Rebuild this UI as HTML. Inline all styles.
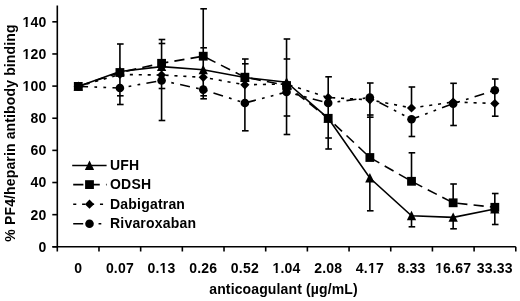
<!DOCTYPE html><html><head><meta charset="utf-8"><style>html,body{margin:0;padding:0;background:#fff;width:520px;height:301px;overflow:hidden}svg{display:block;filter:grayscale(1)}text{font-family:"Liberation Sans",sans-serif;font-weight:bold;fill:#000;letter-spacing:0.2px}</style></head><body>
<svg width="520" height="301" viewBox="0 0 520 301">
<rect x="0" y="0" width="520" height="301" fill="#fff"/>
<g>
<g stroke="#000" stroke-width="1.6" fill="none">
<line x1="57.3" y1="5.5" x2="57.3" y2="246.8"/>
<line x1="52.5" y1="246.8" x2="515.8" y2="246.8"/>
<line x1="52.3" y1="246.80" x2="57.3" y2="246.80"/>
<line x1="52.3" y1="214.66" x2="57.3" y2="214.66"/>
<line x1="52.3" y1="182.52" x2="57.3" y2="182.52"/>
<line x1="52.3" y1="150.38" x2="57.3" y2="150.38"/>
<line x1="52.3" y1="118.24" x2="57.3" y2="118.24"/>
<line x1="52.3" y1="86.10" x2="57.3" y2="86.10"/>
<line x1="52.3" y1="53.96" x2="57.3" y2="53.96"/>
<line x1="52.3" y1="21.82" x2="57.3" y2="21.82"/>
<line x1="57.30" y1="246.8" x2="57.30" y2="251.5"/>
<line x1="98.98" y1="246.8" x2="98.98" y2="251.5"/>
<line x1="140.66" y1="246.8" x2="140.66" y2="251.5"/>
<line x1="182.34" y1="246.8" x2="182.34" y2="251.5"/>
<line x1="224.02" y1="246.8" x2="224.02" y2="251.5"/>
<line x1="265.70" y1="246.8" x2="265.70" y2="251.5"/>
<line x1="307.38" y1="246.8" x2="307.38" y2="251.5"/>
<line x1="349.06" y1="246.8" x2="349.06" y2="251.5"/>
<line x1="390.74" y1="246.8" x2="390.74" y2="251.5"/>
<line x1="432.42" y1="246.8" x2="432.42" y2="251.5"/>
<line x1="474.10" y1="246.8" x2="474.10" y2="251.5"/>
<line x1="515.78" y1="246.8" x2="515.78" y2="251.5"/>
</g>
<g font-size="14" text-anchor="end" style="letter-spacing:0.2px">
<text x="46.4" y="251.70">0</text>
<text x="46.4" y="219.56">20</text>
<text x="46.4" y="187.42">40</text>
<text x="46.4" y="155.28">60</text>
<text x="46.4" y="123.14">80</text>
<text x="46.4" y="91.00">100</text>
<text x="46.4" y="58.86">120</text>
<text x="46.4" y="26.72">140</text>
</g>
<g font-size="14" text-anchor="middle" style="letter-spacing:0.2px">
<text x="78.27" y="272.6">0</text>
<text x="119.92" y="272.6">0.07</text>
<text x="161.58" y="272.6">0.13</text>
<text x="203.24" y="272.6">0.26</text>
<text x="244.89" y="272.6">0.52</text>
<text x="286.55" y="272.6">1.04</text>
<text x="328.20" y="272.6">2.08</text>
<text x="369.86" y="272.6">4.17</text>
<text x="411.51" y="272.6">8.33</text>
<text x="453.16" y="272.6">16.67</text>
<text x="494.82" y="272.6">33.33</text>
</g>
<text x="283.5" y="293.8" font-size="14" text-anchor="middle" style="letter-spacing:0.13px">anticoagulant (µg/mL)</text>
<text transform="translate(14.9,133) rotate(-90)" font-size="14" text-anchor="middle" style="letter-spacing:0.14px">% PF4/heparin antibody binding</text>
<g stroke="#000" stroke-width="1.6" fill="none">
<line x1="119.92" y1="44" x2="119.92" y2="104.5"/>
<line x1="117.02" y1="44" x2="123.62" y2="44"/>
<line x1="117.02" y1="95.8" x2="123.62" y2="95.8"/>
<line x1="117.02" y1="104.5" x2="123.62" y2="104.5"/>
<line x1="161.58" y1="39.5" x2="161.58" y2="120.5"/>
<line x1="158.68" y1="39.5" x2="165.28" y2="39.5"/>
<line x1="158.68" y1="43.5" x2="165.28" y2="43.5"/>
<line x1="158.68" y1="88.5" x2="165.28" y2="88.5"/>
<line x1="158.68" y1="120.5" x2="165.28" y2="120.5"/>
<line x1="203.24" y1="8.8" x2="203.24" y2="98.8"/>
<line x1="200.34" y1="8.8" x2="206.94" y2="8.8"/>
<line x1="200.34" y1="47.8" x2="206.94" y2="47.8"/>
<line x1="200.34" y1="95.8" x2="206.94" y2="95.8"/>
<line x1="200.34" y1="98.8" x2="206.94" y2="98.8"/>
<line x1="244.89" y1="59" x2="244.89" y2="130.8"/>
<line x1="241.99" y1="59" x2="248.59" y2="59"/>
<line x1="241.99" y1="63.8" x2="248.59" y2="63.8"/>
<line x1="241.99" y1="130.8" x2="248.59" y2="130.8"/>
<line x1="286.55" y1="39" x2="286.55" y2="134.5"/>
<line x1="283.65" y1="39" x2="290.25" y2="39"/>
<line x1="283.65" y1="59" x2="290.25" y2="59"/>
<line x1="283.65" y1="116" x2="290.25" y2="116"/>
<line x1="283.65" y1="134.5" x2="290.25" y2="134.5"/>
<line x1="328.20" y1="76.8" x2="328.20" y2="149"/>
<line x1="325.30" y1="76.8" x2="331.90" y2="76.8"/>
<line x1="325.30" y1="138" x2="331.90" y2="138"/>
<line x1="325.30" y1="149" x2="331.90" y2="149"/>
<line x1="369.86" y1="83" x2="369.86" y2="157.5"/>
<line x1="369.86" y1="178.5" x2="369.86" y2="210.8"/>
<line x1="366.96" y1="83" x2="373.56" y2="83"/>
<line x1="366.96" y1="115" x2="373.56" y2="115"/>
<line x1="366.96" y1="117.2" x2="373.56" y2="117.2"/>
<line x1="366.96" y1="210.8" x2="373.56" y2="210.8"/>
<line x1="411.51" y1="87" x2="411.51" y2="108"/>
<line x1="411.51" y1="119.3" x2="411.51" y2="136.5"/>
<line x1="411.51" y1="152.8" x2="411.51" y2="181.3"/>
<line x1="411.51" y1="215.8" x2="411.51" y2="226.8"/>
<line x1="408.61" y1="87" x2="415.21" y2="87"/>
<line x1="408.61" y1="136.5" x2="415.21" y2="136.5"/>
<line x1="408.61" y1="152.8" x2="415.21" y2="152.8"/>
<line x1="408.61" y1="226.8" x2="415.21" y2="226.8"/>
<line x1="453.16" y1="83.3" x2="453.16" y2="125.5"/>
<line x1="453.16" y1="184" x2="453.16" y2="202.8"/>
<line x1="453.16" y1="217.4" x2="453.16" y2="228.8"/>
<line x1="450.26" y1="83.3" x2="456.86" y2="83.3"/>
<line x1="450.26" y1="125.5" x2="456.86" y2="125.5"/>
<line x1="450.26" y1="184" x2="456.86" y2="184"/>
<line x1="450.26" y1="228.8" x2="456.86" y2="228.8"/>
<line x1="494.82" y1="79" x2="494.82" y2="116.2"/>
<line x1="494.82" y1="193.5" x2="494.82" y2="224.5"/>
<line x1="491.92" y1="79" x2="498.52" y2="79"/>
<line x1="491.92" y1="116.2" x2="498.52" y2="116.2"/>
<line x1="491.92" y1="193.5" x2="498.52" y2="193.5"/>
<line x1="491.92" y1="224.5" x2="498.52" y2="224.5"/>
</g>
<g stroke="#000" stroke-width="1.6" fill="none">
<polyline points="78.27,86.4 119.92,88.0 161.58,80.5 203.24,89.6 244.89,103.0 286.55,92.0 328.20,103.0 369.86,97.5 411.51,119.3 453.16,103.7 494.82,90.3" stroke-dasharray="10 6.3 2.75 6.3 2.75 6.3" stroke-dashoffset="0.2"/>
<polyline points="78.27,86.4 119.92,74.5 161.58,75.0 203.24,77.3 244.89,84.8 286.55,84.0 328.20,97.5 369.86,99.8 411.51,108.0 453.16,102.0 494.82,103.5" stroke-dasharray="3.1 5.82" stroke-dashoffset="0.3"/>
<polyline points="78.27,86.4 119.92,72.5 161.58,63.3 203.24,56.2 244.89,77.2 286.55,85.5 328.20,118.3 369.86,157.5 411.51,181.3 453.16,202.8 494.82,207.3" stroke-dasharray="10.2 6.18" stroke-dashoffset="15.1"/>
<polyline points="78.27,86.4 119.92,71.5 161.58,66.6 203.24,69.8 244.89,77.5 286.55,82.2 328.20,118.3 369.86,178.0 411.51,215.8 453.16,217.4 494.82,209.0"/>
</g>
<g fill="#000">
<path d="M78.27,81.40 L82.92,90.80 L73.62,90.80Z"/>
<path d="M119.92,66.50 L124.58,75.90 L115.27,75.90Z"/>
<path d="M161.58,61.60 L166.23,71.00 L156.93,71.00Z"/>
<path d="M203.24,64.80 L207.89,74.20 L198.59,74.20Z"/>
<path d="M244.89,72.50 L249.54,81.90 L240.24,81.90Z"/>
<path d="M286.55,77.20 L291.19,86.60 L281.90,86.60Z"/>
<path d="M328.20,113.30 L332.85,122.70 L323.55,122.70Z"/>
<path d="M369.86,173.00 L374.50,182.40 L365.21,182.40Z"/>
<path d="M411.51,210.80 L416.16,220.20 L406.86,220.20Z"/>
<path d="M453.16,212.40 L457.81,221.80 L448.51,221.80Z"/>
<path d="M494.82,204.00 L499.47,213.40 L490.17,213.40Z"/>
<rect x="73.87" y="82.00" width="8.8" height="8.8"/>
<rect x="115.52" y="68.10" width="8.8" height="8.8"/>
<rect x="157.18" y="58.90" width="8.8" height="8.8"/>
<rect x="198.84" y="51.80" width="8.8" height="8.8"/>
<rect x="240.49" y="72.80" width="8.8" height="8.8"/>
<rect x="282.15" y="81.10" width="8.8" height="8.8"/>
<rect x="323.80" y="113.90" width="8.8" height="8.8"/>
<rect x="365.46" y="153.10" width="8.8" height="8.8"/>
<rect x="407.11" y="176.90" width="8.8" height="8.8"/>
<rect x="448.76" y="198.40" width="8.8" height="8.8"/>
<rect x="490.42" y="202.90" width="8.8" height="8.8"/>
<path d="M78.27,81.80 L82.87,86.40 L78.27,91.00 L73.67,86.40Z"/>
<path d="M119.92,69.90 L124.52,74.50 L119.92,79.10 L115.33,74.50Z"/>
<path d="M161.58,70.40 L166.18,75.00 L161.58,79.60 L156.98,75.00Z"/>
<path d="M203.24,72.70 L207.84,77.30 L203.24,81.90 L198.64,77.30Z"/>
<path d="M244.89,80.20 L249.49,84.80 L244.89,89.40 L240.29,84.80Z"/>
<path d="M286.55,79.40 L291.15,84.00 L286.55,88.60 L281.94,84.00Z"/>
<path d="M328.20,92.90 L332.80,97.50 L328.20,102.10 L323.60,97.50Z"/>
<path d="M369.86,95.20 L374.46,99.80 L369.86,104.40 L365.25,99.80Z"/>
<path d="M411.51,103.40 L416.11,108.00 L411.51,112.60 L406.91,108.00Z"/>
<path d="M453.16,97.40 L457.76,102.00 L453.16,106.60 L448.56,102.00Z"/>
<path d="M494.82,98.90 L499.42,103.50 L494.82,108.10 L490.22,103.50Z"/>
<circle cx="78.27" cy="86.4" r="4.3"/>
<circle cx="119.92" cy="88.0" r="4.3"/>
<circle cx="161.58" cy="80.5" r="4.3"/>
<circle cx="203.24" cy="89.6" r="4.3"/>
<circle cx="244.89" cy="103.0" r="4.3"/>
<circle cx="286.55" cy="92.0" r="4.3"/>
<circle cx="328.20" cy="103.0" r="4.3"/>
<circle cx="369.86" cy="97.5" r="4.3"/>
<circle cx="411.51" cy="119.3" r="4.3"/>
<circle cx="453.16" cy="103.7" r="4.3"/>
<circle cx="494.82" cy="90.3" r="4.3"/>
</g>
<g stroke="#000" stroke-width="1.6" fill="none">
<line x1="72.2" y1="165.5" x2="106.6" y2="165.5"/>
<line x1="73.2" y1="184.6" x2="106.6" y2="184.6" stroke-dasharray="10.2 6.18"/>
<line x1="73.2" y1="204.2" x2="106.6" y2="204.2" stroke-dasharray="3.1 5.82"/>
<line x1="73.2" y1="223.7" x2="106.6" y2="223.7" stroke-dasharray="10 6.3 2.75 6.3 2.75 6.3"/>
</g><g fill="#000">
<path d="M89.50,160.50 L94.15,169.90 L84.85,169.90Z"/>
<rect x="85.10" y="180.20" width="8.8" height="8.8"/>
<path d="M89.50,199.60 L94.10,204.20 L89.50,208.80 L84.90,204.20Z"/>
<circle cx="89.50" cy="223.7" r="4.3"/>
</g>
<g font-size="14">
<text x="110" y="170">UFH</text>
<text x="110" y="189">ODSH</text>
<text x="110" y="209">Dabigatran</text>
<text x="110" y="228">Rivaroxaban</text>
</g>
<g fill="#fff">
<rect x="22.33" y="88.80" width="3.33" height="2.6"/>
<rect x="27.63" y="88.80" width="2.95" height="2.6"/>
<rect x="22.33" y="56.66" width="3.33" height="2.6"/>
<rect x="27.63" y="56.66" width="2.95" height="2.6"/>
<rect x="22.33" y="24.52" width="3.33" height="2.6"/>
<rect x="27.63" y="24.52" width="2.95" height="2.6"/>
<rect x="159.51" y="270.40" width="3.33" height="2.6"/>
<rect x="164.81" y="270.40" width="2.95" height="2.6"/>
<rect x="272.42" y="270.40" width="3.33" height="2.6"/>
<rect x="277.72" y="270.40" width="2.95" height="2.6"/>
<rect x="367.79" y="270.40" width="3.33" height="2.6"/>
<rect x="373.09" y="270.40" width="2.95" height="2.6"/>
<rect x="435.04" y="270.40" width="3.33" height="2.6"/>
<rect x="440.34" y="270.40" width="2.95" height="2.6"/>
</g>
</g>
</svg></body></html>
